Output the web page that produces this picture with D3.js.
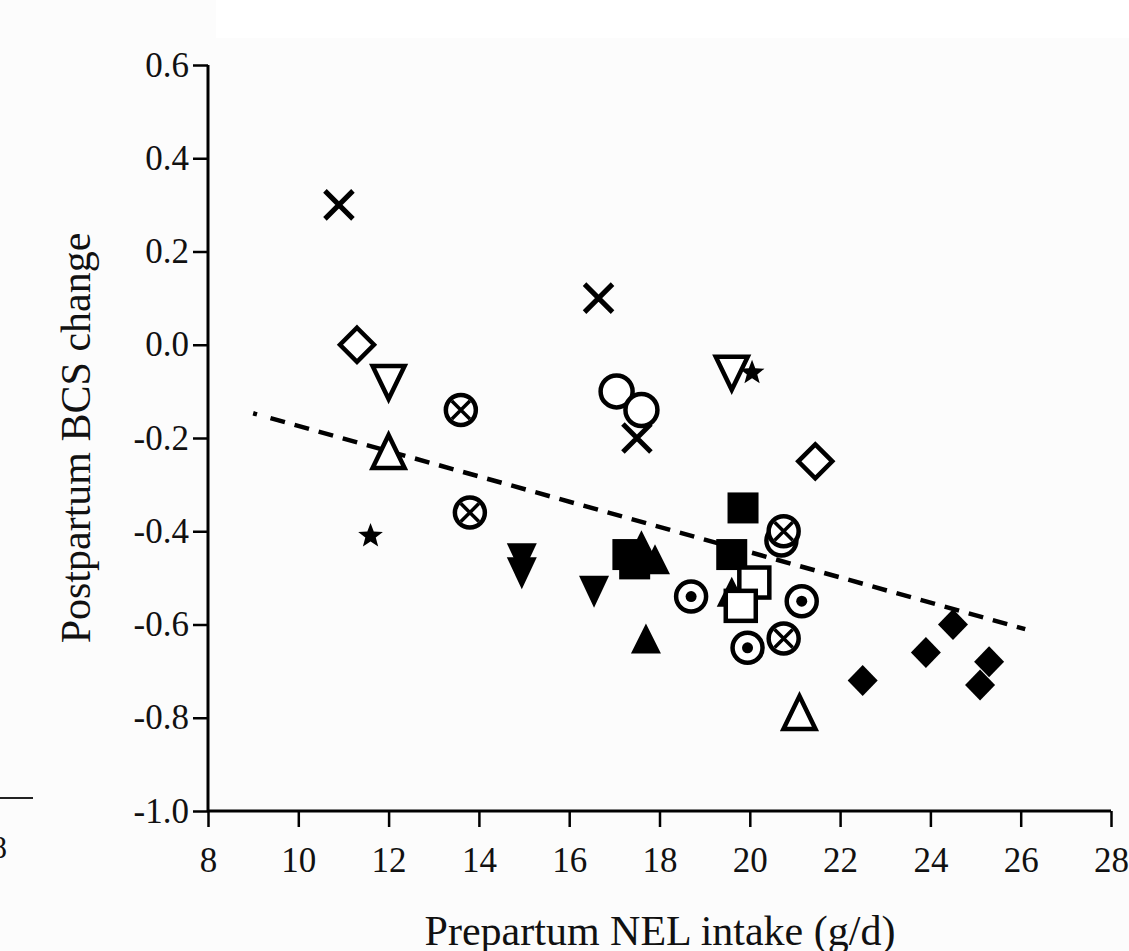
<!DOCTYPE html>
<html><head><meta charset="utf-8">
<script src="https://cdn.jsdelivr.net/npm/d3@7"></script>
<style>
html,body{margin:0;padding:0;background:#fcfcfc;}
svg{display:block;}
text{font-family:"Liberation Serif","Times New Roman",serif;fill:#111;}
</style></head>
<body>
<svg id="chart" width="1129" height="951"></svg>
<script>
// ---- data ----
const xTicks = [8,10,12,14,16,18,20,22,24,26,28];
const yTicks = [0.6,0.4,0.2,0.0,-0.2,-0.4,-0.6,-0.8,-1.0];
const xTitle = "Prepartum NEL intake (g/d)";
const yTitle = "Postpartum BCS change";

const crossX = [10.9, 16.65, 17.5];
const crossY = [0.30, 0.10, -0.20];
const openDiamondX = [11.3, 21.45];
const openDiamondY = [0.0, -0.25];
const openTriDownX = [12.0, 19.6];
const openTriDownY = [-0.08, -0.06];
const openTriUpX = [12.0, 21.1];
const openTriUpY = [-0.23, -0.79];
const starX = [11.6, 20.05];
const starY = [-0.41, -0.06];
const openCircleX = [17.05, 17.6];
const openCircleY = [-0.10, -0.14];
const filledSquareX = [19.85, 19.6, 17.3, 17.45];
const filledSquareY = [-0.35, -0.45, -0.45, -0.47];
const filledTriUpX = [17.6, 17.9, 17.7, 19.6];
const filledTriUpY = [-0.43, -0.46, -0.63, -0.53];
const filledTriDownX = [14.95, 14.95, 16.55];
const filledTriDownY = [-0.46, -0.49, -0.53];
const openSquareX = [20.1, 19.8];
const openSquareY = [-0.51, -0.56];
const circleDotX = [18.7, 21.15, 19.95, 20.7];
const circleDotY = [-0.54, -0.55, -0.65, -0.42];
const otimesX = [13.6, 13.8, 20.75, 20.75];
const otimesY = [-0.14, -0.36, -0.63, -0.40];
const filledDiamondX = [22.5, 23.9, 24.5, 25.3, 25.1];
const filledDiamondY = [-0.72, -0.66, -0.60, -0.68, -0.73];
const trendX = [9.0, 26.1];
const trendY = [-0.147, -0.61];

// ---- layout ----
const svg = d3.select("#chart");
const x = d3.scaleLinear().domain([8,28]).range([208,1111]);
const y = d3.scaleLinear().domain([-1.0,0.6]).range([811,65]);
const ink = "#000";

// background panel
svg.append("rect").attr("x",0).attr("y",0).attr("width",1129).attr("height",951).attr("fill","#fcfcfc");
svg.append("rect").attr("x",216).attr("y",0).attr("width",913).attr("height",38).attr("fill","#ffffff");

// left-edge remnant of neighbouring panel
svg.append("line").attr("x1",0).attr("x2",33).attr("y1",798).attr("y2",798).attr("stroke","#222").attr("stroke-width",2);
svg.append("text").attr("x",-9).attr("y",858).attr("font-size",32).text("8");

// axes
const xAxis = d3.axisBottom(x).tickValues(xTicks).tickSize(16).tickPadding(20).tickFormat(d3.format("d"));
const yAxis = d3.axisLeft(y).tickValues(yTicks).tickSize(15).tickPadding(4).tickFormat(d3.format(".1f"));

const gx = svg.append("g").attr("transform",`translate(0,${y(-1.0)})`).call(xAxis);
const gy = svg.append("g").attr("transform",`translate(${x(8)},0)`).call(yAxis);
[gx,gy].forEach(g=>{
  g.select(".domain").attr("stroke",ink).attr("stroke-width",3);
  g.selectAll(".tick line").attr("stroke",ink).attr("stroke-width",2.5);
  g.selectAll(".tick text").attr("font-family","Liberation Serif, serif").attr("font-size",35).attr("fill","#111");
});
gx.select(".domain").attr("d",`M${x(8)},0H${x(28)}`);
gy.select(".domain").attr("d",`M0,${y(0.6)}V${y(-1.0)}`);
gy.selectAll(".tick text").text(d=>d3.format(".1f")(d).replace("−","-"));

// axis titles
svg.append("text").attr("x",660).attr("y",945).attr("text-anchor","middle").attr("font-size",42).text(xTitle);
svg.append("text").attr("transform",`translate(90,438) rotate(-90)`).attr("text-anchor","middle").attr("font-size",42).text(yTitle);

// trend line
svg.append("path")
  .attr("d", d3.line().x(d=>x(d[0])).y(d=>y(d[1]))(trendX.map((v,i)=>[v,trendY[i]])))
  .attr("fill","none").attr("stroke",ink).attr("stroke-width",4.5).attr("stroke-dasharray","4,14,15,10,15,10,15,10,15,10,15,10,15,10,15,10,15,10,15,10,15,10,15,10,15,10,15,10,15,10,15,10,15,10,15,10,15,10,15,10,15,10,15,10,15,10,15,10,15,10,15,10,15,10,15,10,15,10,15,10,15,10,15,10,15,10,15,10,15,10,15,10,15,10,15,10,15,10");

// markers
function pts(xs, ys){ return xs.map((v,i)=>[v, ys[i]]); }
function draw(xs, ys, fn){
  const g = svg.append("g");
  g.selectAll("g").data(pts(xs,ys)).join("g")
    .attr("transform", d=>`translate(${x(d[0])},${y(d[1])})`)
    .each(function(){ fn(d3.select(this)); });
}
function starPath(R, r){
  let p="";
  for(let i=0;i<10;i++){
    const a = -Math.PI/2 + i*Math.PI/5;
    const rr = i%2===0 ? R : r;
    p += (i===0?"M":"L") + (rr*Math.cos(a)).toFixed(2) + "," + (rr*Math.sin(a)).toFixed(2);
  }
  return p+"Z";
}

draw(filledTriDownX, filledTriDownY, s=>s.append("path").attr("d","M-15,-16L15,-16L0,16Z").attr("fill",ink));
draw(filledSquareX, filledSquareY, s=>s.append("rect").attr("x",-15.5).attr("y",-15.5).attr("width",31).attr("height",31).attr("fill",ink));
draw(filledTriUpX, filledTriUpY, s=>s.append("path").attr("d","M0,-15L15,15L-15,15Z").attr("fill",ink));
draw(openSquareX, openSquareY, s=>s.append("rect").attr("x",-15).attr("y",-15).attr("width",30).attr("height",30).attr("fill","#fff").attr("stroke",ink).attr("stroke-width",4.5));
draw(circleDotX, circleDotY, s=>{
  s.append("circle").attr("r",15).attr("fill","#fff").attr("stroke",ink).attr("stroke-width",4.5);
  s.append("circle").attr("r",5.5).attr("fill",ink);
});
draw(otimesX, otimesY, s=>{
  s.append("circle").attr("r",15).attr("fill","#fff").attr("stroke",ink).attr("stroke-width",4.5);
  s.append("path").attr("d","M-9,-9L9,9M-9,9L9,-9").attr("stroke",ink).attr("stroke-width",3.5);
});
draw(openCircleX, openCircleY, s=>s.append("circle").attr("r",16).attr("fill","#fff").attr("stroke",ink).attr("stroke-width",4.5));
draw(openDiamondX, openDiamondY, s=>s.append("path").attr("d","M0,-17L17,0L0,17L-17,0Z").attr("fill","#fff").attr("stroke",ink).attr("stroke-width",4.5));
draw(openTriDownX, openTriDownY, s=>s.append("path").attr("d","M-16,-16L16,-16L0,17Z").attr("fill","#fff").attr("stroke",ink).attr("stroke-width",4.5).attr("stroke-linejoin","miter"));
draw(openTriUpX, openTriUpY, s=>s.append("path").attr("d","M0,-17L16,16L-16,16Z").attr("fill","#fff").attr("stroke",ink).attr("stroke-width",4.5));
draw(starX, starY, s=>s.append("path").attr("d",starPath(13,5.5)).attr("fill",ink));
draw(crossX, crossY, s=>s.append("path").attr("d","M-14,-14L14,14M-14,14L14,-14").attr("stroke",ink).attr("stroke-width",5));
draw(filledDiamondX, filledDiamondY, s=>s.append("path").attr("d","M0,-15.5L15,0L0,15.5L-15,0Z").attr("fill",ink));
</script>
</body></html>
